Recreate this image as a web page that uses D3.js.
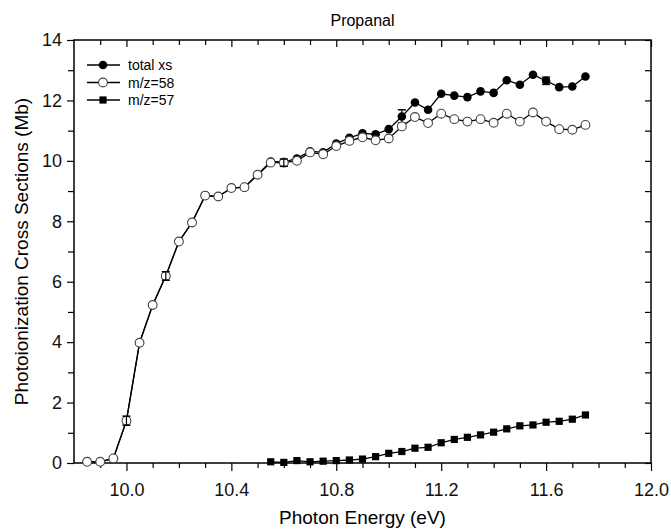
<!DOCTYPE html>
<html>
<head>
<meta charset="utf-8">
<script src="https://cdn.jsdelivr.net/npm/d3@7"></script>
<style>
  body { margin: 0; background: #fff; }
  svg { font-family: 'Liberation Sans', Arial, sans-serif; }
</style>
</head>
<body>
<svg id="chart" width="671" height="530"></svg>
<script>
'use strict'

// photon energy (eV)
const energy = [9.85, 9.90, 9.95, 10.00, 10.05, 10.10, 10.15, 10.20, 10.25, 10.30,
  10.35, 10.40, 10.45, 10.50, 10.55, 10.60, 10.65, 10.70, 10.75, 10.80,
  10.85, 10.90, 10.95, 11.00, 11.05, 11.10, 11.15, 11.20, 11.25, 11.30,
  11.35, 11.40, 11.45, 11.50, 11.55, 11.60, 11.65, 11.70, 11.75]

const totalXs = [0.04, 0.04, 0.15, 1.40, 3.98, 5.23, 6.19, 7.33, 7.96, 8.85,
  8.82, 9.10, 9.13, 9.54, 9.98, 9.96, 10.08, 10.32, 10.28, 10.57,
  10.76, 10.91, 10.88, 11.05, 11.47, 11.93, 11.69, 12.22, 12.16, 12.11,
  12.30, 12.25, 12.67, 12.52, 12.85, 12.65, 12.44, 12.46, 12.79]

const mz58 = [0.04, 0.04, 0.15, 1.40, 3.98, 5.23, 6.19, 7.33, 7.96, 8.85,
  8.82, 9.10, 9.13, 9.54, 9.94, 9.94, 10.00, 10.28, 10.22, 10.49,
  10.66, 10.78, 10.68, 10.74, 11.14, 11.45, 11.25, 11.56, 11.38, 11.30,
  11.38, 11.26, 11.56, 11.30, 11.60, 11.30, 11.05, 11.03, 11.19]

// m/z=57 only starts at 10.55 eV
const energy57 = energy.slice(14)
const mz57 = [0.04, 0.02, 0.08, 0.04, 0.06, 0.08, 0.10, 0.13, 0.21, 0.32,
  0.38, 0.49, 0.52, 0.67, 0.78, 0.85, 0.93, 1.02, 1.13, 1.23,
  1.26, 1.35, 1.38, 1.45, 1.59]

// error bars [energy, value, +/-]
const err58 = [[10.00, 1.40, 0.15], [10.15, 6.19, 0.14], [10.60, 9.94, 0.12]]
const errTotal = [[11.05, 11.47, 0.22], [11.60, 12.65, 0.12]]

const xTicks = [10.0, 10.4, 10.8, 11.2, 11.6, 12.0]
const yTicks = [0, 2, 4, 6, 8, 10, 12, 14]

const margin = {top: 40, right: 20, bottom: 67, left: 74}
const width = 651 - margin.left
const height = 463 - margin.top

const svg = d3.select('#chart')
const g = svg.append('g').attr('transform', `translate(${margin.left},${margin.top})`)

const x = d3.scaleLinear().domain([9.8, 12.0]).range([0, width])
const y = d3.scaleLinear().domain([0, 14]).range([height, 0])

const xMinor = d3.range(9.9, 12.0, 0.1).map(v => +v.toFixed(1))
  .filter(v => !xTicks.some(t => Math.abs(t - v) < 1e-6))
const yMinor = [1, 3, 5, 7, 9, 11, 13]

// minor ticks
g.append('g').attr('transform', `translate(0,${height})`)
  .call(d3.axisBottom(x).tickValues(xMinor).tickSize(5).tickFormat(''))
g.append('g')
  .call(d3.axisTop(x).tickValues(xMinor).tickSize(-5).tickFormat(''))
g.append('g')
  .call(d3.axisLeft(y).tickValues(yMinor).tickSize(6).tickFormat(''))
g.append('g').attr('transform', `translate(${width},0)`)
  .call(d3.axisRight(y).tickValues(yMinor).tickSize(-6).tickFormat(''))

// major ticks
g.append('g').attr('class', 'x axis').attr('transform', `translate(0,${height})`)
  .call(d3.axisBottom(x).tickValues(xTicks).tickSize(8).tickPadding(12).tickFormat(d3.format('.1f')))
g.append('g')
  .call(d3.axisTop(x).tickValues(xTicks).tickSize(-7).tickFormat(''))
g.append('g').attr('class', 'y axis')
  .call(d3.axisLeft(y).tickValues(yTicks).tickSize(7).tickPadding(5).tickFormat(d3.format('d')))
g.append('g').attr('transform', `translate(${width},0)`)
  .call(d3.axisRight(y).tickValues(yTicks).tickSize(-6).tickFormat(''))

g.selectAll('.domain').remove()
g.selectAll('.tick line').attr('stroke', '#000').attr('stroke-width', 1.2)
g.selectAll('.tick text').attr('font-size', 18).attr('fill', '#111')
  .attr('font-family', "'Liberation Sans', Arial, sans-serif")

g.append('rect')
  .attr('width', width).attr('height', height)
  .attr('fill', 'none').attr('stroke', '#000').attr('stroke-width', 1.5)

const line = d3.line().x(d => x(d[0])).y(d => y(d[1]))

function drawErrors (list) {
  list.forEach(function (d) {
    const cx = x(d[0])
    const y1 = y(d[1] + d[2])
    const y2 = y(d[1] - d[2])
    g.append('line').attr('x1', cx).attr('x2', cx).attr('y1', y1).attr('y2', y2)
      .attr('stroke', '#000').attr('stroke-width', 1.2)
    ;[y1, y2].forEach(function (yy) {
      g.append('line').attr('x1', cx - 4).attr('x2', cx + 4).attr('y1', yy).attr('y2', yy)
        .attr('stroke', '#000').attr('stroke-width', 1.5)
    })
  })
}

const total = energy.map((e, i) => [e, totalXs[i]])
const s58 = energy.map((e, i) => [e, mz58[i]])
const s57 = energy57.map((e, i) => [e, mz57[i]])

// total xs
drawErrors(errTotal)
g.append('path').datum(total).attr('d', line)
  .attr('fill', 'none').attr('stroke', '#000').attr('stroke-width', 1.3)
g.selectAll('.dotTotal').data(total).enter().append('circle')
  .attr('class', 'dotTotal')
  .attr('cx', d => x(d[0])).attr('cy', d => y(d[1])).attr('r', 4.3)
  .attr('fill', '#000')

// m/z=58 (open circles drawn on top, white filled)
g.append('path').datum(s58).attr('d', line)
  .attr('fill', 'none').attr('stroke', '#000').attr('stroke-width', 1.3)
g.selectAll('.dot58').data(s58).enter().append('circle')
  .attr('class', 'dot58')
  .attr('cx', d => x(d[0])).attr('cy', d => y(d[1])).attr('r', 4.4)
  .attr('fill', '#fff').attr('stroke', '#444').attr('stroke-width', 1.1)
drawErrors(err58)

// m/z=57
g.append('path').datum(s57).attr('d', line)
  .attr('fill', 'none').attr('stroke', '#000').attr('stroke-width', 1.3)
g.selectAll('.sq57').data(s57).enter().append('rect')
  .attr('class', 'sq57')
  .attr('x', d => x(d[0]) - 3.6).attr('y', d => y(d[1]) - 3.6)
  .attr('width', 7.2).attr('height', 7.2)
  .attr('fill', '#000')

// legend
const legendNames = ['total xs', 'm/z=58', 'm/z=57']
const legend = g.append('g').attr('transform', 'translate(13,25)')
legendNames.forEach(function (name, i) {
  const row = legend.append('g').attr('transform', `translate(0,${i * 17.5})`)
  row.append('line').attr('x1', 0).attr('x2', 33).attr('y1', 0).attr('y2', 0)
    .attr('stroke', '#000').attr('stroke-width', 1.3)
  if (i === 0) {
    row.append('circle').attr('cx', 16).attr('r', 4.3).attr('fill', '#000')
  } else if (i === 1) {
    row.append('circle').attr('cx', 16).attr('r', 4.4).attr('fill', '#fff')
      .attr('stroke', '#444').attr('stroke-width', 1.1)
  } else {
    row.append('rect').attr('x', 12.4).attr('y', -3.6).attr('width', 7.2).attr('height', 7.2)
      .attr('fill', '#000')
  }
  row.append('text').attr('x', 41).attr('y', 5).attr('font-size', 14).text(name)
})

// titles
svg.append('text').attr('x', margin.left + width / 2).attr('y', 26)
  .attr('text-anchor', 'middle').attr('font-size', 16).text('Propanal')
svg.append('text').attr('x', margin.left + width / 2).attr('y', 524)
  .attr('text-anchor', 'middle').attr('font-size', 19).text('Photon Energy (eV)')
svg.append('text')
  .attr('transform', `translate(28,${margin.top + height / 2}) rotate(-90)`)
  .attr('text-anchor', 'middle').attr('font-size', 19)
  .text('Photoionization Cross Sections (Mb)')
</script>
</body>
</html>
